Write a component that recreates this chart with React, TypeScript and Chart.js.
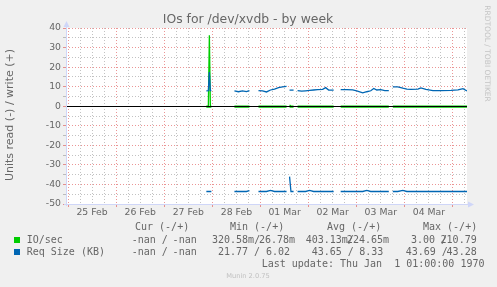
import React, { useEffect, useRef } from 'react';
import { Chart, registerables } from 'chart.js';

Chart.register(...registerables);

const TITLE = 'IOs for /dev/xvdb - by week';
const Y_TITLE = 'Units read (-) / write (+)';
const WATERMARK = 'RRDTOOL / TOBI OETIKER';
const FOOTER = 'Munin 2.0.75';
const LAST_UPDATE = 'Last update: Thu Jan  1 01:00:00 1970';

const DAY_LABELS = ['25 Feb', '26 Feb', '27 Feb', '28 Feb', '01 Mar', '02 Mar', '03 Mar', '04 Mar'];
const Y_TICKS = [-50, -45, -40, -35, -30, -25, -20, -15, -10, -5, 0, 5, 10, 15, 20, 25, 30, 35, 40];

// hours since 25 Feb 00:00
const HOURS = [
  69, 70, 70.5, 71, 71.5, 77,
  83, 85, 87, 89, 90.5, 93,
  95, 97, 99, 101, 103, 105, 107, 109, 109.8,
  110.5, 111.2, 112.5, 113.5,
  114.5, 116.5, 118.5, 120.5, 122.5, 124.5, 127, 128.5, 130, 132.5, 134,
  136, 139, 142, 144, 147, 149, 151, 152.5, 154, 156, 158, 160, 161,
  162, 164.5, 167, 169, 171, 174.5, 176, 178.5, 182, 186, 191, 194.5, 197, 199,
];

const WRITE_KB = [
  7.8, 7.9, 17.5, 8.0, 7.8, null,
  7.9, 7.4, 7.8, 7.5, 8.0, null,
  8.0, 7.8, 7.3, 8.3, 8.8, 9.5, 9.9, 10.1, null,
  8.2, 8.2, 8.2, null,
  8.0, 7.7, 7.9, 8.1, 8.3, 8.5, 8.6, 9.5, 8.3, 8.2, null,
  8.5, 8.5, 8.4, 7.8, 6.8, 7.4, 7.9, 9.1, 8.3, 8.5, 8.0, 8.0, null,
  9.9, 9.9, 9.2, 8.7, 8.6, 8.7, 9.4, 8.6, 8.0, 8.0, 8.1, 8.4, 9.0, 7.8,
];

const READ_KB = [
  -43.6, -43.6, -43.6, -43.6, -43.6, null,
  -43.6, -43.6, -43.6, -43.6, -43.2, null,
  -43.6, -43.6, -43.6, -43.0, -43.6, -43.6, -43.6, -43.6, null,
  -36.0, -43.6, -43.6, null,
  -43.6, -43.6, -43.6, -43.0, -43.6, -43.6, -43.6, -43.6, -43.6, -43.6, null,
  -43.6, -43.6, -43.6, -43.6, -43.6, -43.0, -43.6, -43.6, -43.6, -43.6, -43.6, -43.6, null,
  -43.6, -43.6, -43.0, -43.6, -43.6, -43.6, -43.6, -43.6, -43.6, -43.6, -43.6, -43.6, -43.6, -43.6,
];

const WRITE_IO = [
  0.1, 0.1, 36.3, 0.1, 0.1, null,
  0.1, 0.1, 0.1, 0.1, 0.1, null,
  0.1, 0.1, 0.1, 0.1, 0.1, 0.1, 0.1, 0.1, null,
  0.6, 0.1, 0.1, null,
  0.1, 0.1, 0.1, 0.1, 0.1, 0.1, 0.1, 0.1, 0.1, 0.1, null,
  0.1, 0.1, 0.1, 0.1, 0.1, 0.1, 0.1, 0.1, 0.1, 0.1, 0.1, 0.1, null,
  0.1, 0.1, 0.1, 0.1, 0.1, 0.1, 0.1, 0.1, 0.1, 0.1, 0.1, 0.1, 0.1, 0.1,
];

const READ_IO = [
  -0.5, -0.5, -0.5, -0.5, -0.5, null,
  -0.5, -0.5, -0.5, -0.5, -0.5, null,
  -0.5, -0.5, -0.5, -0.5, -0.5, -0.5, -0.5, -0.5, null,
  -0.5, -0.5, -0.5, null,
  -0.5, -0.5, -0.5, -0.5, -0.5, -0.5, -0.5, -0.5, -0.5, -0.5, null,
  -0.5, -0.5, -0.5, -0.5, -0.5, -0.5, -0.5, -0.5, -0.5, -0.5, -0.5, -0.5, null,
  -0.5, -0.5, -0.5, -0.5, -0.5, -0.5, -0.5, -0.5, -0.5, -0.5, -0.5, -0.5, -0.5, -0.5,
];

const LEGEND_HEADERS = ['Cur (-/+)', 'Min (-/+)', 'Avg (-/+)', 'Max (-/+)'];
const SERIES_NAMES = ['IO/sec', 'Req Size (KB)'];
const IO_STATS = ['-nan / -nan', '320.58m/26.78m', '403.13m/224.65m', '3.00 /210.79'];
const KB_STATS = ['-nan / -nan', '21.77 / 6.02', '43.65 / 8.33', '43.69 /43.28'];

const GREEN = '#00cc00';
const BLUE = '#0066b3';
const MAJOR = 'rgba(222,79,79,0.6)';
const MINOR = 'rgba(143,143,143,0.55)';
const AXIS = '#CFD6F8';
const FONT_COLOR = '#666666';

const HEADER_X = [135, 230, 327, 423];
const CELL_X: [number, number][][] = [
  [[131.7, 196.7], [212, 295], [305.7, 389], [411, 476.7]],
  [[131.7, 196.7], [218, 290], [311.7, 383.3], [405.7, 476.7]],
];

const muninPlugin = {
  id: 'munin',
  beforeDraw(chart: any) {
    const { ctx, chartArea: a } = chart;
    ctx.save();
    ctx.fillStyle = '#F0F0F0';
    ctx.fillRect(0, 0, chart.width, chart.height);
    ctx.fillStyle = '#FFFFFF';
    ctx.fillRect(a.left, a.top, a.right - a.left, a.bottom - a.top);
    ctx.restore();
  },
  afterDatasetsDraw(chart: any) {
    const { ctx, chartArea: a } = chart;
    const y = Math.round(chart.scales.y.getPixelForValue(0)) + 0.5;
    ctx.save();
    ctx.strokeStyle = '#000000';
    ctx.lineWidth = 1;
    ctx.beginPath();
    ctx.moveTo(a.left, y);
    ctx.lineTo(a.right, y);
    ctx.stroke();
    ctx.restore();
  },
  afterDraw(chart: any) {
    const { ctx, chartArea: a } = chart;
    ctx.save();
    // axes
    const lx = a.left + 0.5;
    const by = a.bottom + 0.5;
    ctx.strokeStyle = AXIS;
    ctx.lineWidth = 1;
    ctx.beginPath();
    ctx.moveTo(lx, a.bottom + 2);
    ctx.lineTo(lx, a.top - 1);
    ctx.moveTo(a.left - 2, by);
    ctx.lineTo(a.right + 1, by);
    ctx.stroke();
    ctx.fillStyle = AXIS;
    ctx.beginPath();
    ctx.moveTo(lx - 3, a.top - 1);
    ctx.lineTo(lx + 3, a.top - 1);
    ctx.lineTo(lx, a.top - 7);
    ctx.closePath();
    ctx.fill();
    ctx.beginPath();
    ctx.moveTo(a.right + 1, by - 3);
    ctx.lineTo(a.right + 1, by + 3);
    ctx.lineTo(a.right + 7, by);
    ctx.closePath();
    ctx.fill();

    // title
    ctx.fillStyle = FONT_COLOR;
    ctx.font = '12.4px "DejaVu Sans"';
    ctx.textAlign = 'center';
    ctx.textBaseline = 'alphabetic';
    ctx.fillText(TITLE, 248, 23);

    // y title
    ctx.save();
    ctx.translate(10.5, 115);
    ctx.rotate(-Math.PI / 2);
    ctx.font = '11px "DejaVu Sans"';
    ctx.textBaseline = 'middle';
    ctx.fillText(Y_TITLE, 0, 0);
    ctx.restore();

    // watermark
    ctx.save();
    ctx.translate(487, 53.5);
    ctx.rotate(Math.PI / 2);
    ctx.font = '7.5px "DejaVu Sans"';
    ctx.fillStyle = '#c4c4c4';
    ctx.textAlign = 'center';
    ctx.textBaseline = 'middle';
    ctx.fillText(WATERMARK, 0, 0);
    ctx.restore();

    // footer
    ctx.font = '6.7px "DejaVu Sans"';
    ctx.fillStyle = '#c0c0c0';
    ctx.textAlign = 'center';
    ctx.textBaseline = 'middle';
    ctx.fillText(FOOTER, 248, 276.5);

    // legend
    ctx.font = '10px "DejaVu Sans Mono"';
    ctx.fillStyle = FONT_COLOR;
    ctx.textBaseline = 'middle';
    ctx.textAlign = 'left';
    LEGEND_HEADERS.forEach((h, i) => ctx.fillText(h, HEADER_X[i], 227.5));
    const rows = [IO_STATS, KB_STATS];
    const colors = [GREEN, BLUE];
    const rowY = [240, 252];
    rows.forEach((stats, r) => {
      ctx.fillStyle = colors[r];
      ctx.fillRect(14, rowY[r] - 3, 6, 6);
      ctx.fillStyle = FONT_COLOR;
      ctx.textAlign = 'left';
      ctx.fillText(SERIES_NAMES[r], 26.7, rowY[r]);
      stats.forEach((s, c) => {
        const k = s.indexOf('/');
        const [x0, x1] = CELL_X[r][c];
        ctx.textAlign = 'left';
        ctx.fillText(s.slice(0, k + 1), x0, rowY[r]);
        ctx.textAlign = 'right';
        ctx.fillText(s.slice(k + 1), x1, rowY[r]);
      });
    });
    ctx.textAlign = 'left';
    ctx.fillText(LAST_UPDATE, 261.7, 264);
    ctx.restore();
  },
};

export default function App() {
  const ref = useRef<HTMLCanvasElement>(null);
  useEffect(() => {
    const canvas = ref.current!;
    const pts = (vals: (number | null)[]) => HOURS.map((h, i) => ({ x: h, y: vals[i] }));
    const tickFont = { family: 'DejaVu Sans', size: 9.3 };
    const chart = new Chart(canvas, {
      type: 'line',
      data: {
        datasets: [
          { label: 'Req Size write', data: pts(WRITE_KB), borderColor: BLUE },
          { label: 'Req Size read', data: pts(READ_KB), borderColor: BLUE },
          { label: 'IO write', data: pts(WRITE_IO), borderColor: GREEN },
          { label: 'IO read', data: pts(READ_IO), borderColor: GREEN },
        ] as any,
      },
      options: {
        animation: false,
        responsive: false,
        devicePixelRatio: 1,
        layout: { padding: { left: 0, right: 30, top: 28, bottom: 0 } },
        plugins: { legend: { display: false }, tooltip: { enabled: false }, title: { display: false } },
        elements: { point: { radius: 0 }, line: { borderWidth: 1.3, tension: 0 } },
        spanGaps: false,
        scales: {
          x: {
            type: 'linear',
            min: -1,
            max: 199,
            afterBuildTicks: (s: any) => {
              const t = [];
              for (let h = 0; h <= 198; h += 6) t.push({ value: h });
              s.ticks = t;
            },
            afterFit: (s: any) => { s.height = 83; },
            ticks: {
              autoSkip: false,
              maxRotation: 0,
              minRotation: 0,
              padding: 0,
              font: tickFont,
              color: FONT_COLOR,
              callback: (v: any) => (v % 24 === 12 ? DAY_LABELS[Math.floor(v / 24)] : ''),
            },
            grid: {
              color: (c: any) => (c.tick && c.tick.value % 24 === 0 ? MAJOR : MINOR),
              tickColor: (c: any) => (c.tick && c.tick.value % 24 === 0 ? MAJOR : 'rgba(0,0,0,0)'),
              tickLength: 3,
              lineWidth: 1,
            },
            border: { display: false, dash: [1, 2] },
          },
          y: {
            type: 'linear',
            min: -50,
            max: 40,
            afterBuildTicks: (s: any) => { s.ticks = Y_TICKS.map((v) => ({ value: v })); },
            afterFit: (s: any) => { s.width = 66; },
            ticks: {
              autoSkip: false,
              padding: 2,
              font: tickFont,
              color: FONT_COLOR,
              callback: (v: any) => (v % 10 === 0 ? String(v) : ''),
            },
            grid: {
              color: (c: any) => (c.tick && c.tick.value % 10 === 0 ? MAJOR : MINOR),
              tickColor: (c: any) => (c.tick && c.tick.value % 10 === 0 ? MAJOR : MINOR),
              tickLength: 3,
              lineWidth: 1,
            },
            border: { display: false, dash: [1, 2] },
          },
        },
      } as any,
      plugins: [muninPlugin],
    });
    return () => chart.destroy();
  }, []);
  return (
    <div style={{ position: 'fixed', left: 0, top: 0, width: 497, height: 287, background: '#F0F0F0' }}>
      <canvas ref={ref} width={497} height={287} style={{ display: 'block', width: 497, height: 287 }} />
    </div>
  );
}
